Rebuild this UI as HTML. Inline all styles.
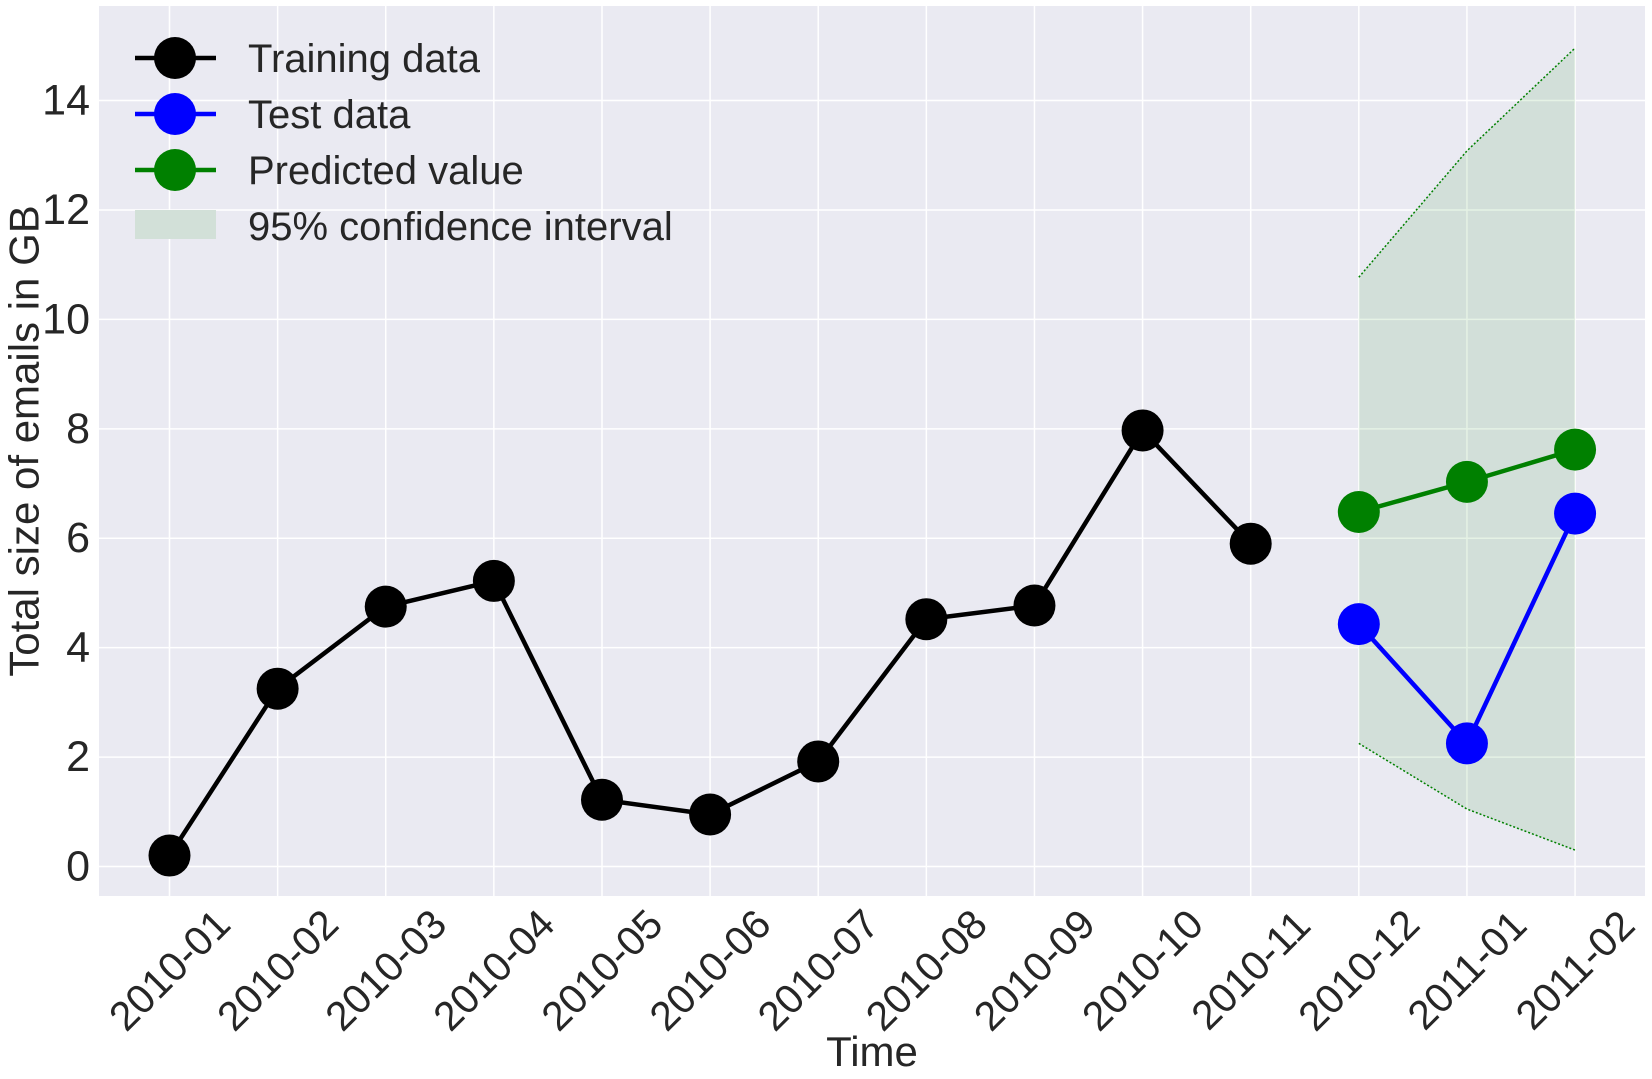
<!DOCTYPE html>
<html><head><meta charset="utf-8"><style>body{margin:0;background:#fff}svg{display:block;font-family:"Liberation Sans",sans-serif}</style></head>
<body>
<svg id="chart" width="1652" height="1079" xmlns="http://www.w3.org/2000/svg">
<rect x="99" y="6" width="1546" height="890" fill="#eaeaf2"/>
<g id="grid"></g><g id="marks"></g><g id="axes"></g>
<text x="872" y="1066" font-size="42" fill="#262626" text-anchor="middle">Time</text>
<text transform="translate(24,441) rotate(-90)" font-size="42" fill="#262626" text-anchor="middle" dominant-baseline="central">Total size of emails in GB</text>
<g font-size="40" fill="#262626">
<g><line x1="135" y1="58" x2="216" y2="58" stroke="#000" stroke-width="4.5"/><circle cx="175" cy="58" r="21" fill="#000"/><text x="248" y="72">Training data</text></g>
<g><line x1="135" y1="114" x2="216" y2="114" stroke="#00f" stroke-width="4.5"/><circle cx="175" cy="114" r="21" fill="#00f"/><text x="248" y="128">Test data</text></g>
<g><line x1="135" y1="170" x2="216" y2="170" stroke="#008000" stroke-width="4.5"/><circle cx="175" cy="170" r="21" fill="#008000"/><text x="248" y="184">Predicted value</text></g>
<g><rect x="135" y="210" width="81" height="29" fill="#d2e0d8"/><text x="248" y="240">95% confidence interval</text></g>
</g>
</svg>
<script>
const categories=["2010-01","2010-02","2010-03","2010-04","2010-05","2010-06","2010-07","2010-08","2010-09","2010-10","2010-11","2010-12","2011-01","2011-02"];
const trainingValues=[0.2,3.25,4.75,5.22,1.22,0.95,1.92,4.52,4.77,7.97,5.9];
const testValues=[4.43,2.25,6.45];
const predictedValues=[6.48,7.03,7.62];
const ciUpper=[10.77,13.08,14.96];
const ciLower=[2.25,1.05,0.3];
const yTicks=[0,2,4,6,8,10,12,14];
const NS="http://www.w3.org/2000/svg";
const X=i=>169.5+i*108.12;
const Y=v=>866.5-v*54.71;
function mk(tag,attrs,parent){const e=document.createElementNS(NS,tag);for(const k in attrs)e.setAttribute(k,attrs[k]);parent.appendChild(e);return e;}
const grid=document.getElementById('grid'),marks=document.getElementById('marks'),axes=document.getElementById('axes');
yTicks.forEach(t=>{
 const l=mk('line',{x1:99,x2:1645,y1:Y(t),y2:Y(t),stroke:'#fff','stroke-width':1.5},grid);
 
 
 const tx=mk('text',{x:90,y:Y(t),'font-size':43,fill:'#262626','text-anchor':'end','dominant-baseline':'central'},axes);
 tx.textContent=t;
 
 
});
categories.forEach((c,i)=>{
 const l=mk('line',{x1:X(i),x2:X(i),y1:6,y2:896,stroke:'#fff','stroke-width':1.5},grid);
 
 
 const tx=mk('text',{transform:`translate(${X(i)},970) rotate(-45)`,'font-size':41,fill:'#262626','text-anchor':'middle','dominant-baseline':'central'},axes);
 tx.textContent=c;
 
 
});
const off=trainingValues.length;
let pts=ciUpper.map((v,i)=>X(off+i)+','+Y(v)).concat(ciLower.map((v,i)=>X(off+i)+','+Y(v)).reverse());
const band=mk('polygon',{points:pts.join(' '),fill:'#008000','fill-opacity':0.1},marks);


[[ciUpper,'ci-upper-line'],[ciLower,'ci-lower-line']].forEach(([arr,n])=>{
 const p=mk('polyline',{points:arr.map((v,i)=>X(off+i)+','+Y(v)).join(' '),fill:'none',stroke:'#008000','stroke-width':1.5,'stroke-dasharray':'2,2'},marks);
 
 
});
function series(vals,start,color,name){
 const p=mk('polyline',{points:vals.map((v,i)=>X(start+i)+','+Y(v)).join(' '),fill:'none',stroke:color,'stroke-width':4.5,'stroke-linejoin':'round'},marks);
 
 
 vals.forEach((v,i)=>{
  const c=mk('circle',{cx:X(start+i),cy:Y(v),r:21,fill:color},marks);
  
  
 });
}
series(trainingValues,0,'#000','training');
series(testValues,off,'#0000ff','test');
series(predictedValues,off,'#008000','predicted');
</script>
</body></html>
